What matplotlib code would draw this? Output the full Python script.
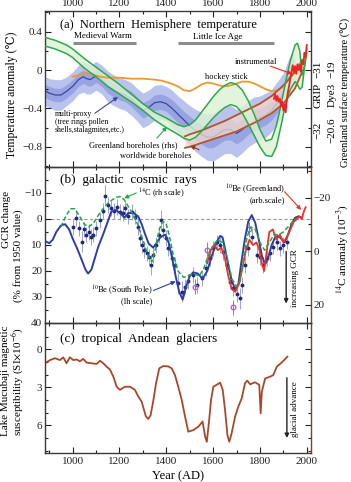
import matplotlib
matplotlib.use('Agg')
import matplotlib.pyplot as plt
from matplotlib.ticker import FixedLocator, FuncFormatter, MultipleLocator
import numpy as np

plt.rcParams['font.family'] = ['Liberation Serif', 'DejaVu Serif', 'Noto Sans CJK SC']
plt.rcParams['mathtext.fontset'] = 'stix'
plt.rcParams['axes.unicode_minus'] = True

# ---------------- DATA ----------------
# (a) Northern Hemisphere temperature
mp_year = [885, 900, 925, 950, 975, 1000, 1025, 1045, 1060, 1075, 1100, 1125, 1150, 1175, 1200,
           1225, 1250, 1275, 1300, 1325, 1350, 1375, 1400, 1425, 1450, 1475, 1500, 1525, 1550, 1575,
           1600, 1625, 1650, 1675, 1700, 1725, 1750, 1775, 1800, 1825, 1850, 1875, 1900, 1925, 1940, 1950]
mp_center = [-0.22, -0.24, -0.26, -0.26, -0.22, -0.17, -0.10, -0.07, -0.09, -0.10, -0.06, -0.10, -0.17, -0.21, -0.24,
             -0.26, -0.30, -0.36, -0.42, -0.39, -0.34, -0.33, -0.35, -0.40, -0.46, -0.52, -0.58, -0.63, -0.67, -0.70,
             -0.70, -0.66, -0.62, -0.62, -0.66, -0.62, -0.56, -0.52, -0.50, -0.47, -0.42, -0.34, -0.24, -0.05, 0.05, -0.02]
mp_outer = [0.15, 0.15, 0.16, 0.16, 0.15, 0.15, 0.15, 0.16, 0.16, 0.15, 0.15, 0.15, 0.16, 0.16, 0.16,
            0.16, 0.17, 0.17, 0.18, 0.18, 0.18, 0.18, 0.18, 0.19, 0.19, 0.20, 0.21, 0.22, 0.23, 0.24,
            0.25, 0.25, 0.25, 0.25, 0.25, 0.24, 0.24, 0.24, 0.23, 0.23, 0.22, 0.22, 0.21, 0.18, 0.14, 0.12]
mp_inner = [0.07, 0.07, 0.07, 0.07, 0.07, 0.07, 0.07, 0.07, 0.07, 0.07, 0.07, 0.07, 0.07, 0.07, 0.07,
            0.07, 0.08, 0.08, 0.08, 0.08, 0.08, 0.08, 0.08, 0.09, 0.09, 0.09, 0.10, 0.10, 0.10, 0.11,
            0.11, 0.11, 0.11, 0.11, 0.11, 0.11, 0.11, 0.11, 0.10, 0.10, 0.10, 0.10, 0.09, 0.08, 0.07, 0.06]

hs_year = [1000, 1030, 1060, 1090, 1120, 1150, 1200, 1250, 1300, 1350, 1380, 1420, 1450, 1475, 1500,
           1525, 1550, 1575, 1600, 1625, 1650, 1675, 1700, 1725, 1750, 1775, 1800, 1825, 1850, 1875,
           1900, 1925, 1950, 1965, 1980]
hs_temp = [-0.07, -0.05, -0.03, -0.05, -0.07, -0.08, -0.08, -0.09, -0.09, -0.10, -0.11, -0.14, -0.17, -0.21, -0.22,
           -0.19, -0.15, -0.13, -0.14, -0.16, -0.17, -0.16, -0.14, -0.12, -0.12, -0.14, -0.17, -0.20, -0.22, -0.21,
           -0.17, -0.09, 0.00, 0.05, 0.11]

gb_year = [882, 925, 975, 1000, 1050, 1100, 1150, 1200, 1250, 1300, 1350, 1400, 1450, 1475, 1500,
           1525, 1550, 1575, 1600, 1625, 1650, 1675, 1700, 1725, 1750, 1775, 1800, 1825, 1850, 1870,
           1890, 1910, 1930, 1950, 1960, 1970, 1980, 1990, 2000]
gb_upper = [0.34, 0.31, 0.26, 0.22, 0.12, 0.03, -0.06, -0.15, -0.25, -0.35, -0.44, -0.50, -0.57, -0.59, -0.57,
            -0.52, -0.44, -0.36, -0.28, -0.21, -0.16, -0.13, -0.15, -0.21, -0.32, -0.46, -0.62, -0.74, -0.72, -0.58,
            -0.36, -0.12, 0.10, 0.26, 0.28, 0.20, -0.05, 0.05, 0.22]
gb_lower = [0.25, 0.22, 0.17, 0.13, 0.02, -0.07, -0.17, -0.25, -0.33, -0.42, -0.52, -0.60, -0.67, -0.71, -0.73,
            -0.70, -0.64, -0.57, -0.50, -0.44, -0.39, -0.36, -0.38, -0.45, -0.56, -0.68, -0.80, -0.89, -0.90, -0.80,
            -0.58, -0.35, -0.20, -0.12, -0.15, -0.20, -0.18, 0.02, 0.18]

wb_year = [1480, 1500, 1550, 1600, 1650, 1700, 1750, 1800, 1850, 1900, 1950, 1980]
wb_upper = [-0.69, -0.67, -0.63, -0.58, -0.53, -0.47, -0.41, -0.35, -0.27, -0.16, -0.02, 0.08]
wb_lower = [-0.81, -0.80, -0.76, -0.72, -0.68, -0.64, -0.58, -0.52, -0.45, -0.35, -0.19, -0.02]

inst_year = [1860, 1865, 1870, 1875, 1880, 1885, 1890, 1895, 1900, 1905, 1910, 1915, 1920, 1925, 1930,
             1935, 1940, 1945, 1950, 1955, 1960, 1965, 1970, 1975, 1980, 1985, 1990, 1995, 2000]
inst_temp = [-0.30, -0.25, -0.32, -0.27, -0.33, -0.30, -0.38, -0.33, -0.42, -0.36, -0.44, -0.30, -0.22, -0.16, -0.08,
             -0.02, 0.05, -0.02, 0.04, -0.04, 0.06, 0.00, 0.05, -0.02, 0.10, 0.06, 0.18, 0.14, 0.26]

# (b) galactic cosmic rays
besp_year = [882, 900, 915, 930, 950, 968, 985, 1000, 1020, 1040, 1055, 1066, 1080, 1095, 1110,
             1130, 1150, 1165, 1185, 1205, 1222, 1237, 1260, 1280, 1295, 1310, 1325, 1344, 1360, 1375,
             1395, 1410, 1425, 1440, 1455, 1470, 1485, 1500, 1515, 1535, 1555, 1575, 1595, 1615, 1630,
             1640, 1650, 1665, 1680, 1695, 1708, 1720, 1735, 1750, 1765, 1780, 1795, 1808, 1822, 1835,
             1850, 1865, 1880, 1895, 1905, 1920, 1935, 1950, 1965, 1980]
besp_gcr = [8.5, 9.3, 8.0, 5.0, 2.5, 2.0, 4.0, 7.5, 11.5, 16.0, 19.5, 21.0, 19.5, 15.0, 10.5,
            6.0, 1.0, -2.8, -3.5, -2.0, -0.5, -2.3, -2.3, -1.0, 2.0, 6.0, 9.5, 11.0, 9.0, 7.0,
            6.0, 9.0, 15.0, 22.0, 28.0, 31.0, 26.0, 22.0, 20.5, 21.0, 23.0, 20.0, 14.0, 9.0, 6.5,
            7.0, 11.0, 18.0, 24.0, 27.0, 25.0, 17.0, 8.0, 1.0, -1.5, 1.5, 8.0, 14.0, 17.5, 15.0,
            10.0, 7.0, 6.5, 8.0, 9.0, 6.0, 2.0, -0.5, -1.0, -0.5]

c14_year = [950, 970, 990, 1010, 1030, 1050, 1068, 1090, 1110, 1130, 1150, 1170, 1190, 1205, 1220,
            1240, 1260, 1280, 1300, 1320, 1338, 1355, 1370, 1385, 1398, 1412, 1430, 1450, 1475, 1500,
            1520, 1540, 1560, 1580, 1600, 1620, 1640, 1660, 1680, 1700, 1715, 1730, 1745, 1760, 1780,
            1800, 1820, 1840, 1860, 1880, 1900, 1920, 1940, 1950]
c14_anom = [-9.0, -12.9, -15.8, -15.8, -12.9, -10.0, -9.0, -10.5, -13.4, -15.8, -17.8, -19.2, -20.2, -20.3, -19.2,
            -16.3, -13.4, -9.5, -4.2, 1.2, 4.1, -1.3, -8.1, -11.0, -10.5, -6.1, 1.6, 7.5, 9.9, 8.9,
            8.5, 9.4, 6.5, 1.6, -2.2, -4.2, -3.2, 2.6, 10.4, 13.3, 11.4, 2.6, -5.2, -9.0, -8.1,
            -3.2, -0.3, -3.2, -6.1, -6.1, -7.1, -9.0, -11.0, -12.0]

pts_year = [1003, 1014, 1028, 1038, 1048, 1058, 1068, 1078, 1088, 1100, 1117, 1128, 1140, 1152, 1166,
            1178, 1188, 1202, 1216, 1224, 1238, 1252, 1266, 1280, 1288, 1295, 1305, 1316, 1327, 1335,
            1344, 1356, 1370, 1376, 1387, 1397, 1409, 1423, 1437, 1451, 1466, 1480, 1494, 1516, 1530,
            1551, 1570, 1587, 1601, 1615, 1630, 1644, 1658, 1672, 1686, 1700, 1715, 1722, 1736, 1750,
            1765, 1786, 1800, 1815, 1829, 1843, 1857, 1872, 1886, 1900, 1914]
pts_gcr = [3, -0.3, 3.6, 8.7, 4, 6, 5, 7, 6, 3.6, 0.4, -3, -9, -5.4, -4.1,
           -3, -4.7, -2.8, -2.2, -4.1, -1, -2.8, -0.9, 3, 7.4, 10, 11.9, 13.2, 14.5, 17.7,
           13.8, 10, 6.2, 0.4, 4.2, 7.4, 11.3, 15.1, 17.7, 24.7, 28, 26, 24, 21.5, 25.4,
           22.8, 19, 15.1, 11.3, 9, 10, 12.6, 17.7, 24.1, 26.7, 29, 30.5, 25.4, 17.7, 11.3,
           7, 13.8, 14.5, 17.7, 15, 13.2, 10.6, 9, 11.3, 10, 8.7]
pts_err = [3, 3, 3, 4, 3, 3, 3, 3, 3, 3, 3, 3, 4, 3, 3,
           3, 3, 3, 3, 3, 3, 3, 3, 3, 3, 3, 3, 3, 3, 4,
           3, 3, 3, 4, 3, 3, 3, 3, 3, 4, 4, 3, 3, 3, 3,
           3, 3, 3, 3, 3, 3, 3, 3, 3, 3, 3, 4, 3, 3, 3,
           3, 3, 3, 3, 3, 3, 3, 3, 3, 3, 3]

circ_year = [1523, 1573, 1686, 1755]
circ_gcr = [26, 12, 34, 4]
circ_err = [3, 3, 3, 3]

begr_year = [1575, 1590, 1605, 1620, 1635, 1650, 1665, 1680, 1695, 1710, 1725, 1740, 1755, 1770, 1785,
             1798, 1808, 1818, 1828, 1840, 1855, 1870, 1885, 1900, 1915, 1930, 1945, 1958, 1968, 1978,
             1988, 1995]
begr_val = [17, 12, 10, 12, 11, 15, 22, 27, 28, 25, 19, 12, 8, 10, 9,
            12, 17, 20, 13, 5, 4, 8, 6, 9, 7, 4, 1, 0, -1, 0,
            -3, -4.5]

# (c) tropical Andean glaciers
mu_year = [882, 903, 925, 946, 960, 974, 988, 1003, 1017, 1031, 1045, 1060, 1081, 1103, 1117,
           1131, 1145, 1159, 1174, 1188, 1202, 1223, 1245, 1266, 1281, 1295, 1305, 1313, 1323, 1333,
           1345, 1356, 1370, 1387, 1409, 1423, 1437, 1451, 1466, 1480, 1494, 1516, 1537, 1555, 1566,
           1573, 1583, 1591, 1601, 1615, 1630, 1641, 1651, 1661, 1669, 1679, 1694, 1708, 1722, 1736,
           1746, 1758, 1779, 1797, 1803, 1808, 1822, 1843, 1857, 1872, 1889, 1903, 1917]
mu_susc = [1.1, 0.85, 0.7, 0.85, 0.63, 1.1, 0.63, 0.85, 0.8, 0.95, 0.75, 1.05, 1.1, 1.15, 0.9,
           1.1, 1.37, 1.58, 2.16, 2.95, 3.2, 2.95, 2.95, 3.2, 3.74, 4.14, 4.8, 5.3, 5.5, 5.2,
           4.0, 2.7, 1.5, 1.32, 1.35, 1.5, 2.03, 2.95, 4.0, 5.3, 6.5, 6.37, 6.1, 5.7, 6.9,
           7.3, 5.6, 4.0, 2.95, 2.8, 2.63, 3.2, 4.8, 6.76, 7.3, 6.63, 5.3, 4.5, 3.87, 2.68,
           2.47, 2.76, 2.6, 2.8, 5.05, 3.35, 2.3, 2.16, 2.03, 1.37, 1.1, 0.85, 0.58]

x_ticks = [1000, 1200, 1400, 1600, 1800, 2000]

# ---------------- FIGURE ----------------
W, H = 351, 482
fig = plt.figure(figsize=(W / 100, H / 100), dpi=100)


def fx(x):
    return x / W


def fy(y):
    return 1 - y / H


L, R = 45, 311
axa = fig.add_axes([fx(L), fy(167), fx(R) - fx(L), fy(11) - fy(167)])
axb = fig.add_axes([fx(L), fy(323), fx(R) - fx(L), fy(167) - fy(323)])
axc = fig.add_axes([fx(L), fy(452.7), fx(R) - fx(L), fy(323) - fy(452.7)])

XL = (882, 2018)
spine_col = '#3a3a3a'
right_col = '#8e3a2c'


def minus(s):
    return s.replace('-', '\u2212')


for ax in (axa, axb, axc):
    ax.set_xlim(*XL)
    ax.xaxis.set_major_locator(FixedLocator(x_ticks))
    ax.xaxis.set_minor_locator(MultipleLocator(100))
    ax.tick_params(axis='both', which='both', direction='in', top=True, bottom=True,
                   labelsize=8, colors='#222222', width=0.8)
    ax.tick_params(axis='both', which='major', length=4, pad=2)
    ax.tick_params(axis='both', which='minor', length=2.5)
    for s in ax.spines.values():
        s.set_color(spine_col)
        s.set_linewidth(1.0)
    ax.set_facecolor('none')

axa.tick_params(axis='x', labeltop=True, labelbottom=False)
axb.tick_params(axis='x', labeltop=False, labelbottom=False)
axc.tick_params(axis='x', labeltop=False, labelbottom=True, pad=3)

# ---- panel (a)
axa.set_ylim(-1.01, 0.615)
axa.yaxis.set_major_locator(FixedLocator([-0.8, -0.4, 0, 0.4]))
axa.yaxis.set_minor_locator(FixedLocator([-1.0, -0.6, -0.2, 0.2, 0.6]))
axa.yaxis.set_major_formatter(FuncFormatter(lambda v, p: '0' if abs(v) < 1e-9 else minus(f'{v:.1f}')))
axa.tick_params(axis='y', which='both', right=True, labelright=False)

c = np.array(mp_center)
o = np.array(mp_outer)
i_ = np.array(mp_inner)
axa.fill_between(mp_year, c - o, c + o, color='#bac2ee', lw=0, zorder=1)
axa.fill_between(mp_year, c - i_, c + i_, color='#98a4e2', lw=0, zorder=1.1)
axa.plot(mp_year, mp_center, color='#3b47a5', lw=0.9, zorder=1.2)

axa.fill_between(wb_year, wb_lower, wb_upper, color='#f3d8cb', alpha=0.75, lw=0, zorder=2)
axa.fill_between(gb_year, gb_lower, gb_upper, color='#dcf2d4', alpha=0.8, lw=0, zorder=2.1)
axa.plot(hs_year, hs_temp, color='#eb9a2c', lw=1.3, zorder=3)
axa.plot(wb_year, wb_upper, color='#b4532e', lw=1.3, zorder=3.1)
axa.plot(wb_year, wb_lower, color='#b4532e', lw=1.3, zorder=3.1)
axa.plot(gb_year, gb_upper, color='#2caa4a', lw=1.1, zorder=3.2)
axa.plot(gb_year, gb_lower, color='#2caa4a', lw=1.1, zorder=3.2)
axa.plot(inst_year, inst_temp, color='#ee2222', lw=1.3, zorder=3.5)

# period bars
axa.plot([1000, 1270], [0.285, 0.285], color='#8c8c8c', lw=2.2, solid_capstyle='butt')
axa.plot([1450, 1862], [0.285, 0.285], color='#8c8c8c', lw=2.2, solid_capstyle='butt')

tfs = 6
fig.text(fx(60), fy(25), '(a)  Northern  Hemisphere  temperature', fontsize=9, va='center', ha='left')
fig.text(fx(103), fy(36), 'Medieval Warm', fontsize=6.5, va='center', ha='center')
fig.text(fx(218), fy(37), 'Little Ice Age', fontsize=6.5, va='center', ha='center')
fig.text(fx(226), fy(77), 'hockey stick', fontsize=tfs, va='center', ha='center')
fig.text(fx(256), fy(62), 'instrumental', fontsize=tfs, va='center', ha='center')
fig.text(fx(55), fy(122), 'multi-proxy\n(tree rings pollen\nshells,stalagmites,etc.)', fontsize=5.6,
         va='center', ha='left', linespacing=0.95)
fig.text(fx(89), fy(145), 'Greenland boreholes (rhs)', fontsize=tfs, va='center', ha='left')
fig.text(fx(120), fy(156), 'worldwide boreholes', fontsize=tfs, va='center', ha='left')


def arrow(ax, xy, xyt, col):
    ax.annotate('', xy=xy, xytext=xyt,
                arrowprops=dict(arrowstyle='-|>', color=col, lw=0.8, mutation_scale=6,
                                shrinkA=0, shrinkB=0), zorder=6, annotation_clip=False)


arrow(axa, (1194, -0.28), (1095, -0.45), '#3b47a5')
arrow(axa, (1403, -0.59), (1360, -0.71), '#2caa4a')
arrow(axa, (1502, -0.79), (1540, -0.83), '#8a3a1e')
arrow(axa, (1937, -0.04), (1845, 0.04), '#ee2222')

# right-hand Greenland labels
for x, txts in ((318, ('\u221231', 'GRIP', '\u221232')), (332, ('\u221219', 'Dye3', '\u221220.6'))):
    for y, t in zip((69, 95, 130), txts):
        fig.text(fx(x), fy(y), t, rotation=90, fontsize=8, ha='center', va='center')
fig.text(fx(346), fy(92), 'Greenland surface temperature (\u2103)', rotation=90, fontsize=7.5,
         ha='center', va='center')
fig.text(fx(12), fy(95), 'Temperature anomaly (\u2103)', rotation=90, fontsize=8.5,
         ha='center', va='center')

# ---- panel (b)
axb.set_ylim(40, -20)
axb.yaxis.set_major_locator(FixedLocator([-10, 0, 10, 20, 30, 40]))
axb.yaxis.set_minor_locator(FixedLocator([-15, -5, 5, 15, 25, 35]))
axb.yaxis.set_major_formatter(FuncFormatter(lambda v, p: minus(f'{v:.0f}')))
axb.spines['right'].set_color(right_col)
axb.axhline(0, color='#999999', lw=0.8, ls=(0, (3, 2)), zorder=1)

axb2 = axb.twinx()
axb2.set_ylim(26.9, -31.4)
axb2.yaxis.set_major_locator(FixedLocator([-20, 0, 20]))
axb2.yaxis.set_minor_locator(FixedLocator([-30, -10, 10]))
axb2.yaxis.set_major_formatter(FuncFormatter(lambda v, p: minus(f'{v:.0f}')))
axb2.tick_params(axis='y', which='both', direction='in', labelsize=8, width=0.8, colors='#222222')
axb2.tick_params(axis='y', which='major', length=4, pad=2)
axb2.tick_params(axis='y', which='minor', length=2.5)
for s in axb2.spines.values():
    s.set_visible(False)

axb.errorbar(pts_year, pts_gcr, yerr=pts_err, fmt='o', ms=1.8, color='#1f2b7a', ecolor='#9aa2dc',
             elinewidth=0.7, capsize=0, zorder=3)
axb.errorbar(circ_year, circ_gcr, yerr=circ_err, fmt='o', ms=3.3, mfc='none', mec='#b565c8',
             ecolor='#b565c8', elinewidth=0.7, capsize=0, zorder=3)
axb2.plot(c14_year, c14_anom, color='#24a648', lw=1.1, ls=(0, (3, 1.5)), zorder=4)
axb.plot(besp_year, besp_gcr, color='#2f3ea3', lw=1.4, zorder=4)
axb.plot(begr_year, begr_val, color='#ee3322', lw=1.3, zorder=4.5)

fig.text(fx(60), fy(180), '(b)  galactic  cosmic  rays', fontsize=9.5, va='center', ha='left')
fig.text(fx(138), fy(193), r'$^{14}$C (rh scale)', fontsize=tfs, va='center', ha='left')
fig.text(fx(152), fy(290.5), r'$^{10}$Be (South Pole)', fontsize=tfs, va='center', ha='right')
fig.text(fx(152), fy(301.5), '(lh scale)', fontsize=tfs, va='center', ha='right')
fig.text(fx(285), fy(189.5), r'$^{10}$Be (Greenland)', fontsize=tfs, va='center', ha='right')
fig.text(fx(285), fy(200.5), '(arb.scale)', fontsize=tfs, va='center', ha='right')
fig.text(fx(295), fy(278), 'increasing GCR', rotation=90, fontsize=6.5, va='center', ha='center')
arrow(axb, (1220, -8), (1272, -10), '#24a648')
arrow(axb, (1440, 24), (1345, 27.5), '#2f3ea3')
arrow(axb, (1976, -3.5), (1905, -10.5), '#ee3322')
axb.annotate('', xy=(1912, 32.5), xytext=(1912, 12.5),
             arrowprops=dict(arrowstyle='-|>', color='#222222', lw=1.0, mutation_scale=6,
                             shrinkA=0, shrinkB=0))

fig.text(fx(7), fy(219), 'GCR change', rotation=90, fontsize=8, ha='center', va='center')
fig.text(fx(18), fy(256), '(% from 1950 value)', rotation=90, fontsize=8, ha='center', va='center')
fig.text(fx(342), fy(249), r'$^{14}$C anomaly (10$^{-3}$)', rotation=90, fontsize=8,
         ha='center', va='center')

# ---- panel (c)
axc.set_ylim(8.16, -2.08)
axc.yaxis.set_major_locator(FixedLocator([0, 3, 6]))
axc.yaxis.set_minor_locator(FixedLocator([-1, 1, 2, 4, 5, 7, 8]))
axc.tick_params(axis='y', which='both', right=True, labelright=False)
axc.spines['right'].set_color(right_col)
axc.plot(mu_year, mu_susc, color='#a9472b', lw=1.3)
fig.text(fx(60), fy(339), '(c)  tropical  Andean  glaciers', fontsize=9.5, va='center', ha='left')
fig.text(fx(295), fy(409), 'glacial advance', rotation=90, fontsize=6.5, va='center', ha='center')
axc.annotate('', xy=(1915, 7.0), xytext=(1915, 2.25),
             arrowprops=dict(arrowstyle='-|>', color='#222222', lw=1.0, mutation_scale=6,
                             shrinkA=0, shrinkB=0))
fig.text(fx(6), fy(381), 'Lake Mucubaji magnetic', rotation=90, fontsize=8, ha='center', va='center')
fig.text(fx(18), fy(382), r'susceptibility (SI$\times$10$^{-6}$)', rotation=90, fontsize=8,
         ha='center', va='center')
fig.text(fx(178), fy(476), 'Year (AD)', fontsize=9, ha='center', va='center')

fig.savefig('out.png', dpi=100)
